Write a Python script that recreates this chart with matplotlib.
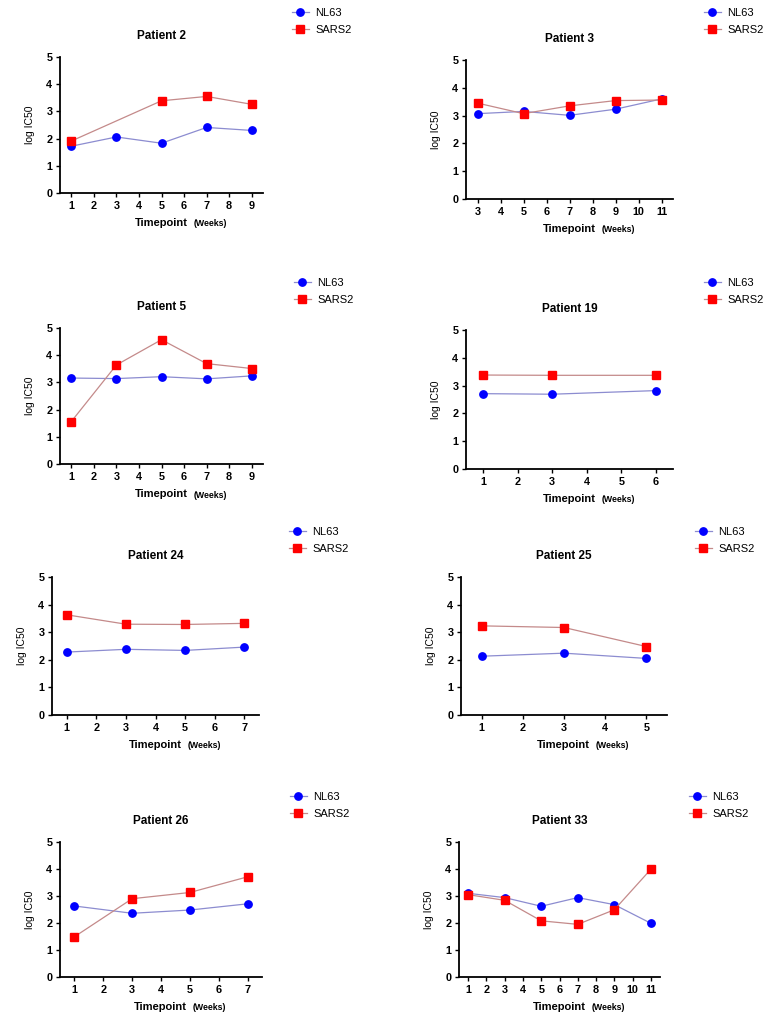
import numpy as np
import matplotlib
matplotlib.use('Agg')
import matplotlib.pyplot as plt

plt.rcParams['font.family'] = ['Liberation Sans', 'DejaVu Sans']

# patient data
titles = ['Patient 2', 'Patient 3', 'Patient 5', 'Patient 19',
          'Patient 24', 'Patient 25', 'Patient 26', 'Patient 33']

nl63_x = [[1, 3, 5, 7, 9], [3, 5, 7, 9, 11], [1, 3, 5, 7, 9], [1, 3, 6],
          [1, 3, 5, 7], [1, 3, 5], [1, 3, 5, 7], [1, 3, 5, 7, 9, 11]]
nl63_y = [[1.72, 2.06, 1.83, 2.41, 2.30],
          [3.07, 3.15, 3.01, 3.23, 3.60],
          [3.16, 3.14, 3.21, 3.13, 3.24],
          [2.71, 2.69, 2.82],
          [2.28, 2.38, 2.34, 2.46],
          [2.13, 2.24, 2.05],
          [2.63, 2.36, 2.48, 2.71],
          [3.10, 2.94, 2.62, 2.94, 2.68, 1.99]]

sars2_x = [[1, 5, 7, 9], [3, 5, 7, 9, 11], [1, 3, 5, 7, 9], [1, 3, 6],
           [1, 3, 5, 7], [1, 3, 5], [1, 3, 5, 7], [1, 3, 5, 7, 9, 11]]
sars2_y = [[1.91, 3.39, 3.55, 3.26],
           [3.45, 3.07, 3.35, 3.54, 3.56],
           [1.56, 3.64, 4.57, 3.69, 3.51],
           [3.38, 3.37, 3.37],
           [3.63, 3.29, 3.28, 3.32],
           [3.23, 3.17, 2.48],
           [1.49, 2.90, 3.13, 3.71],
           [3.05, 2.84, 2.08, 1.95, 2.49, 3.99]]

x_ticks = [list(range(1, 10)), list(range(3, 12)), list(range(1, 10)), list(range(1, 7)),
           list(range(1, 8)), list(range(1, 6)), list(range(1, 8)), list(range(1, 12))]

W, H = 775, 1019
# axes boxes in pixels: left, right, top, bottom
boxes = [(60, 263, 57, 193), (466, 673, 60, 199),
         (60, 263, 328, 464), (466, 673, 330, 469),
         (52, 259, 577, 715), (461, 667, 577, 715),
         (60, 262, 842, 977), (459, 660, 842, 977)]
legend_pos = [(292, 8), (704, 8), (294, 278), (704, 278),
              (289, 527), (695, 527), (290, 792), (689, 792)]

fig = plt.figure(figsize=(W / 100, H / 100), dpi=100)

for i in range(8):
    l, r, t, b = boxes[i]
    ax = fig.add_axes([l / W, 1 - b / H, (r - l) / W, (b - t) / H])

    ax.plot(nl63_x[i], nl63_y[i], color='#8c8cd0', lw=0.9, marker='o',
            ms=5.3, mfc='#0000ff', mec='#0000ff', label='NL63')
    ax.plot(sars2_x[i], sars2_y[i], color='#c48a8a', lw=0.9, marker='s',
            ms=6, mfc='#ff0000', mec='#ff0000', label='SARS2')

    ax.set_xlim(x_ticks[i][0] - 0.5, x_ticks[i][-1] + 0.5)
    ax.set_ylim(0, 5)
    ax.set_xticks(x_ticks[i])
    ax.set_yticks([0, 1, 2, 3, 4, 5])
    for s in ['top', 'right']:
        ax.spines[s].set_visible(False)
    for s in ['left', 'bottom']:
        ax.spines[s].set_linewidth(1.3)
    ax.tick_params(direction='out', length=3, width=1, labelsize=7.8, pad=2.5)
    for lab in ax.get_xticklabels() + ax.get_yticklabels():
        lab.set_fontweight('bold')

    ax.set_title(titles[i], fontsize=8.5, fontweight='bold', pad=13)
    ax.set_ylabel('log IC50', fontsize=7.5, labelpad=8)

    ax.annotate('Timepoint', xy=(0.5, 0), xycoords='axes fraction',
                xytext=(26, -30), textcoords='offset pixels',
                ha='right', va='center', fontsize=8, fontweight='bold')
    ax.annotate('(Weeks)', xy=(0.5, 0), xycoords='axes fraction',
                xytext=(32, -31), textcoords='offset pixels',
                ha='left', va='center', fontsize=6.3, fontweight='bold')

    lx, ly = legend_pos[i]
    ax.legend(loc='upper left', bbox_to_anchor=(lx / W, 1 - ly / H),
              bbox_transform=fig.transFigure, frameon=False, fontsize=8,
              borderpad=0, borderaxespad=0, handlelength=1.5,
              handletextpad=0.6, labelspacing=0.65)

fig.savefig('out.png', dpi=100)
